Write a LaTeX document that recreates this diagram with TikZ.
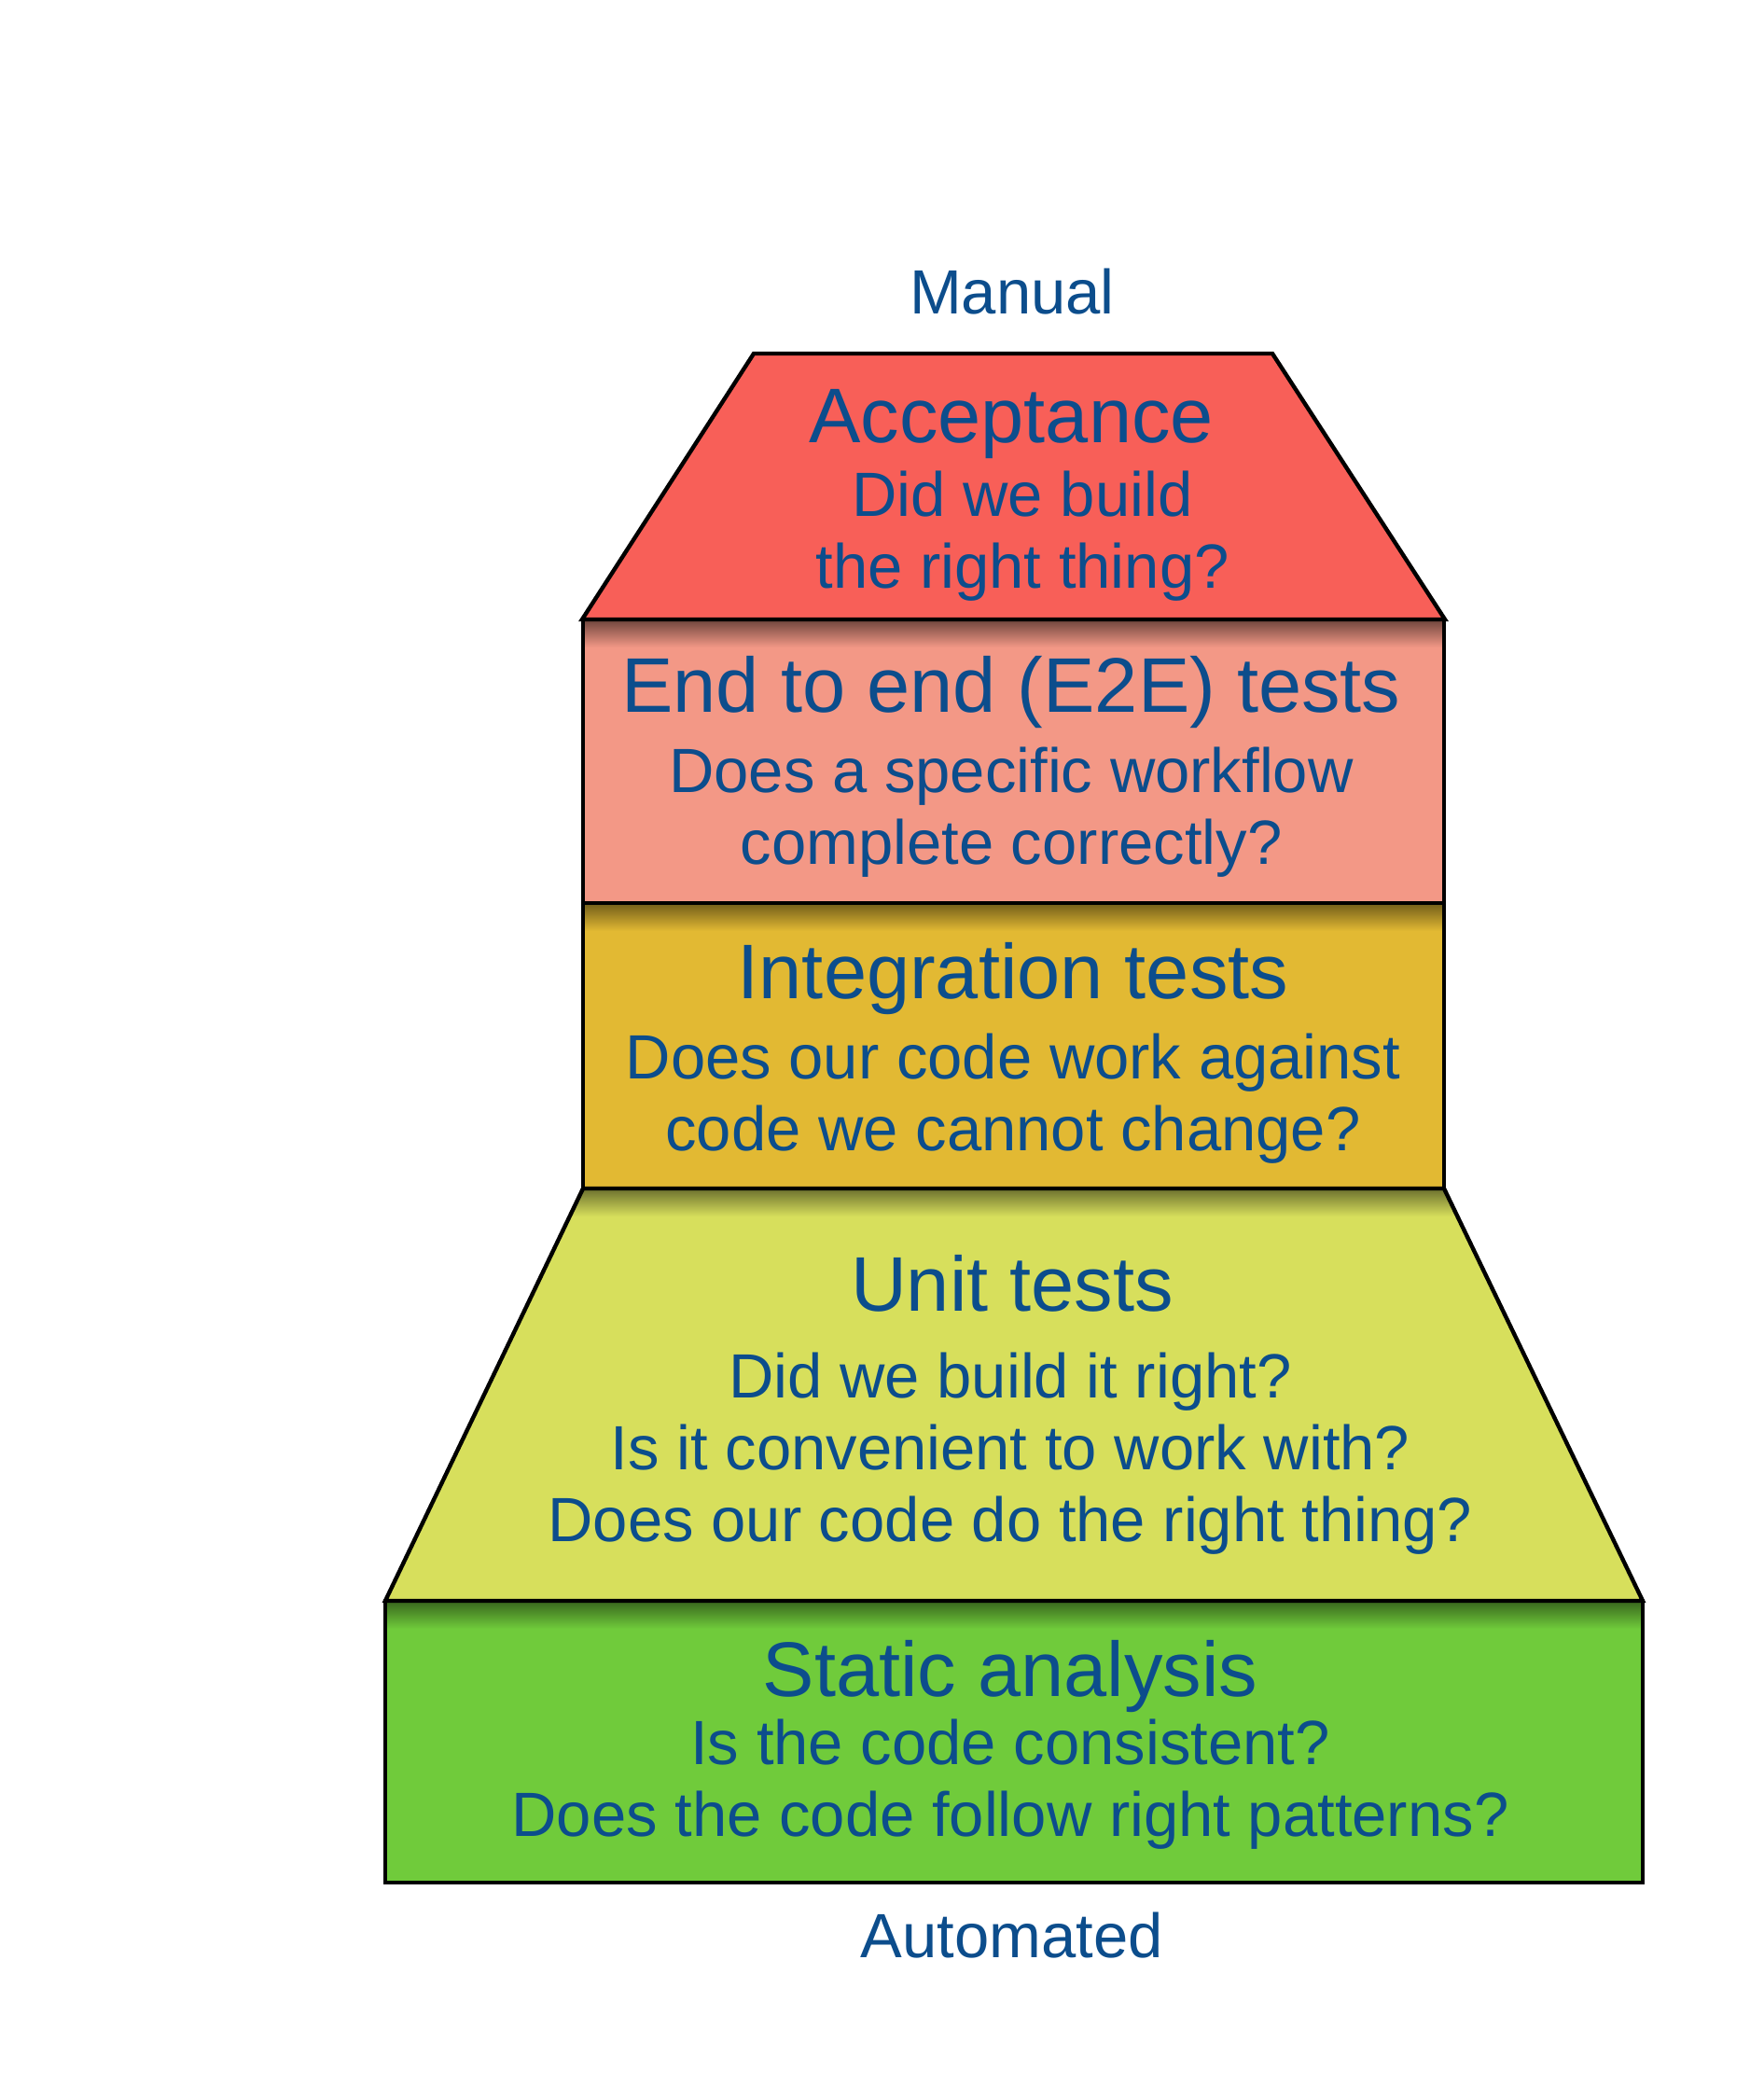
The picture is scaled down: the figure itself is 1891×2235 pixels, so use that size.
\documentclass[tikz,border=0pt]{standalone}
\usepackage{fontspec}
\setmainfont{Liberation Sans}
\definecolor{txtblue}{RGB}{12,77,140}
\definecolor{accfill}{RGB}{248,95,88}
\definecolor{etefill}{RGB}{243,152,134}
\definecolor{intfill}{RGB}{226,185,51}
\definecolor{unitfill}{RGB}{215,223,92}
\definecolor{statfill}{RGB}{112,203,59}
\begin{document}
\begin{tikzpicture}[x=0.5pt,y=-0.5pt,
  outline/.style={draw=black,line width=2.2pt,line join=miter},
  title/.style={anchor=base,text=txtblue,inner sep=0pt,font=\fontsize{41.5}{48}\selectfont},
  question/.style={anchor=base,text=txtblue,inner sep=0pt,font=\fontsize{33.5}{40}\selectfont}]
\useasboundingbox (0,0) rectangle (1891,2235);

% corner points of the five layers
\coordinate (accTL) at (808,379);  \coordinate (accTR) at (1364,379);
\coordinate (accBL) at (624,664);  \coordinate (accBR) at (1549,664);
\coordinate (eteTL) at (625,664);  \coordinate (eteBR) at (1548,968);
\coordinate (intTL) at (625,968);  \coordinate (intBR) at (1548,1274);
\coordinate (uniTL) at (625,1274); \coordinate (uniTR) at (1548,1274);
\coordinate (uniBL) at (413,1716); \coordinate (uniBR) at (1761,1716);
\coordinate (staTL) at (413,1716); \coordinate (staBR) at (1761,2018);

% fills
\fill[statfill] (staTL) rectangle (staBR);
\fill[unitfill] (uniTL) -- (uniTR) -- (uniBR) -- (uniBL) -- cycle;
\fill[intfill] (intTL) rectangle (intBR);
\fill[etefill] (eteTL) rectangle (eteBR);
\fill[accfill] (accTL) -- (accTR) -- (accBR) -- (accBL) -- cycle;

% soft shadows cast by each layer onto the one below
\shade[top color=statfill!50!black,bottom color=statfill] (413,1716) rectangle (1761,1746);
\begin{scope}
  \clip (uniTL) -- (uniTR) -- (uniBR) -- (uniBL) -- cycle;
  \shade[top color=unitfill!50!black,bottom color=unitfill] (560,1274) rectangle (1620,1304);
\end{scope}
\shade[top color=intfill!50!black,bottom color=intfill] (intTL) rectangle (1548,998);
\shade[top color=etefill!45!black,bottom color=etefill] (eteTL) rectangle (1548,694);

% outlines
\draw[outline] (staTL) rectangle (staBR);
\draw[outline] (uniTL) -- (uniTR) -- (uniBR) -- (uniBL) -- cycle;
\draw[outline] (intTL) rectangle (intBR);
\draw[outline] (eteTL) rectangle (eteBR);
\draw[outline] (accTL) -- (accTR) -- (accBR) -- (accBL) -- cycle;

% labels
\node[question] (manual) at (1085,336) {Manual};

\node[title] (acc) at (1084,474) {Acceptance};
\node[question] (acc1) at (1096,553) {Did we build};
\node[question] (acc2) at (1096,630) {the right thing?};

\node[title] (ete) at (1084,763) {End to end (E2E) tests};
\node[question] (ete1) at (1084,849) {Does a specific workflow};
\node[question] (ete2) at (1084,926) {complete correctly?};

\node[title] (int) at (1086,1070) {Integration tests};
\node[question] (int1) at (1086,1156) {Does our code work against};
\node[question] (int2) at (1086,1233) {code we cannot change?};

\node[title] (uni) at (1085,1405) {Unit tests};
\node[question] (uni1) at (1083,1498) {Did we build it right?};
\node[question] (uni2) at (1083,1575) {Is it convenient to work with?};
\node[question] (uni3) at (1083,1652) {Does our code do the right thing?};

\node[title] (sta) at (1083,1818) {Static analysis};
\node[question] (sta1) at (1083,1891) {Is the code consistent?};
\node[question] (sta2) at (1083,1968) {Does the code follow right patterns?};

\node[question] (auto) at (1085,2098) {Automated};
\end{tikzpicture}
\end{document}
